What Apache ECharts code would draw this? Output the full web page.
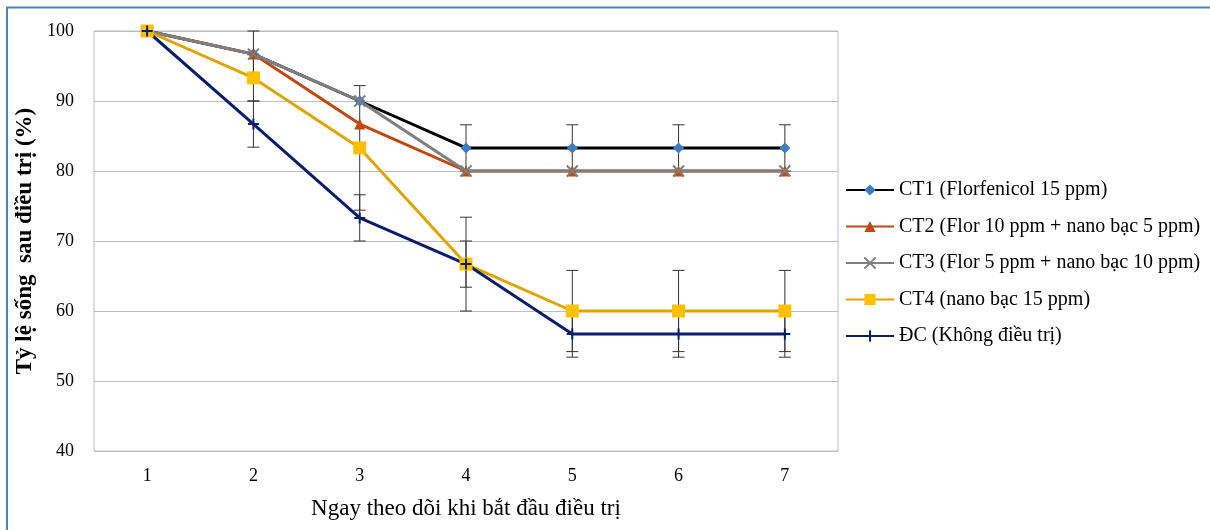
<!DOCTYPE html>
<html>
<head>
<meta charset="utf-8">
<script src="https://cdn.jsdelivr.net/npm/echarts@6/dist/echarts.min.js"></script>
<style>
  html, body { margin: 0; padding: 0; background: #fff; }
  #chart { width: 1210px; height: 530px; }
</style>
</head>
<body>
<div id="chart"></div>
<script>
// ngày theo dõi
var days = ['1', '2', '3', '4', '5', '6', '7'];
var names = [
  'CT1 (Florfenicol 15 ppm)',
  'CT2 (Flor 10 ppm + nano bạc 5 ppm)',
  'CT3 (Flor 5 ppm + nano bạc 10 ppm)',
  'CT4 (nano bạc 15 ppm)',
  'ĐC (Không điều trị)'
];
var ct1 = [100, 96.7, 90, 83.3, 83.3, 83.3, 83.3];
var ct2 = [100, 96.7, 86.7, 80, 80, 80, 80];
var ct3 = [100, 96.7, 90, 80, 80, 80, 80];
var ct4 = [100, 93.3, 83.3, 66.7, 60, 60, 60];
var dc  = [100, 86.7, 73.3, 66.7, 56.7, 56.7, 56.7];
// sai số (±)
var errCt1 = [0, 3.3, 0, 3.3, 3.3, 3.3, 3.3];
var errCt4 = [0, 3.3, 8.9, 6.7, 5.8, 5.8, 5.8];
var errDc  = [0, 3.3, 3.3, 3.3, 3.3, 3.3, 3.3];

var serif = '"Liberation Serif", "Times New Roman", serif';

function errData(vals, errs) {
  var out = [];
  vals.forEach(function (v, i) {
    if (errs[i] > 0) out.push([i, v - errs[i], v + errs[i]]);
  });
  return out;
}

function errSeries(vals, errs) {
  return {
    type: 'custom',
    silent: true,
    z: 1,
    data: errData(vals, errs),
    renderItem: function (params, api) {
      var x = api.value(0);
      var lo = api.coord([x, api.value(1)]);
      var hi = api.coord([x, api.value(2)]);
      var w = 6;
      var st = { stroke: '#333', lineWidth: 1 };
      return {
        type: 'group',
        children: [
          { type: 'line', shape: { x1: lo[0], y1: lo[1], x2: hi[0], y2: hi[1] }, style: st },
          { type: 'line', shape: { x1: lo[0] - w, y1: lo[1], x2: lo[0] + w, y2: lo[1] }, style: st },
          { type: 'line', shape: { x1: hi[0] - w, y1: hi[1], x2: hi[0] + w, y2: hi[1] }, style: st }
        ]
      };
    }
  };
}

function lineSeries(name, data, color, symbol, symColor, size, stroke) {
  var s = {
    name: name,
    type: 'line',
    z: 3,
    data: data,
    symbol: symbol,
    symbolSize: size,
    lineStyle: { color: color, width: 3 },
    itemStyle: { color: symColor },
    emphasis: { disabled: true }
  };
  if (stroke) {
    s.itemStyle = { color: symColor, borderColor: symColor, borderWidth: 2 };
  }
  return s;
}

var chart = echarts.init(document.getElementById('chart'));
var option = {
  animation: false,
  backgroundColor: '#fff',
  textStyle: { fontFamily: serif },
  graphic: [
    { type: 'line', shape: { x1: 6, y1: 7.5, x2: 1210, y2: 7.5 }, style: { stroke: '#4F81BD', lineWidth: 2 } },
    { type: 'line', shape: { x1: 7, y1: 7, x2: 7, y2: 530 }, style: { stroke: '#4F81BD', lineWidth: 2 } }
  ],
  grid: {
    left: 94, right: 372, top: 31, bottom: 79,
    show: true, borderColor: '#bdbdbd', borderWidth: 1
  },
  legend: {
    orient: 'vertical',
    left: 845,
    top: 180,
    padding: 0,
    itemWidth: 48,
    itemHeight: 14,
    itemGap: 16.5,
    data: names,
    textStyle: { fontFamily: serif, fontSize: 20, color: '#000' }
  },
  xAxis: {
    type: 'category',
    data: days,
    name: 'Ngay theo dõi khi bắt đầu điều trị',
    nameLocation: 'middle',
    nameGap: 46,
    nameTextStyle: { fontFamily: serif, fontSize: 23, color: '#000' },
    axisLine: { show: false },
    axisTick: { show: false },
    axisLabel: { fontFamily: serif, fontSize: 18, color: '#000', margin: 16 }
  },
  yAxis: {
    type: 'value',
    min: 40, max: 100, interval: 10,
    name: 'Tỷ lệ sống  sau điều trị (%)',
    nameLocation: 'middle',
    nameGap: 56,
    nameTextStyle: { fontFamily: serif, fontSize: 23, fontWeight: 'bold', color: '#000' },
    axisLine: { show: false },
    axisTick: { show: false },
    axisLabel: { fontFamily: serif, fontSize: 18, color: '#000', margin: 20 },
    splitLine: { lineStyle: { color: '#bdbdbd', width: 1 } }
  },
  series: [
    errSeries(ct1, errCt1),
    errSeries(ct4, errCt4),
    errSeries(dc, errDc),
    lineSeries(names[0], ct1, '#000000', 'diamond', '#3d7cc0', 11),
    lineSeries(names[1], ct2, '#c0470f', 'triangle', '#c0470f', 11),
    lineSeries(names[2], ct3, '#7f7f7f', 'path://M0,0L10,10M10,0L0,10', '#7f7f7f', 11, true),
    lineSeries(names[3], ct4, '#e0a400', 'rect', '#ffc000', 13),
    lineSeries(names[4], dc, '#0a1f6b', 'path://M5,0L5,10M0,5L10,5', '#0a1f6b', 11, true)
  ]
};
chart.setOption(option);
</script>
</body>
</html>
